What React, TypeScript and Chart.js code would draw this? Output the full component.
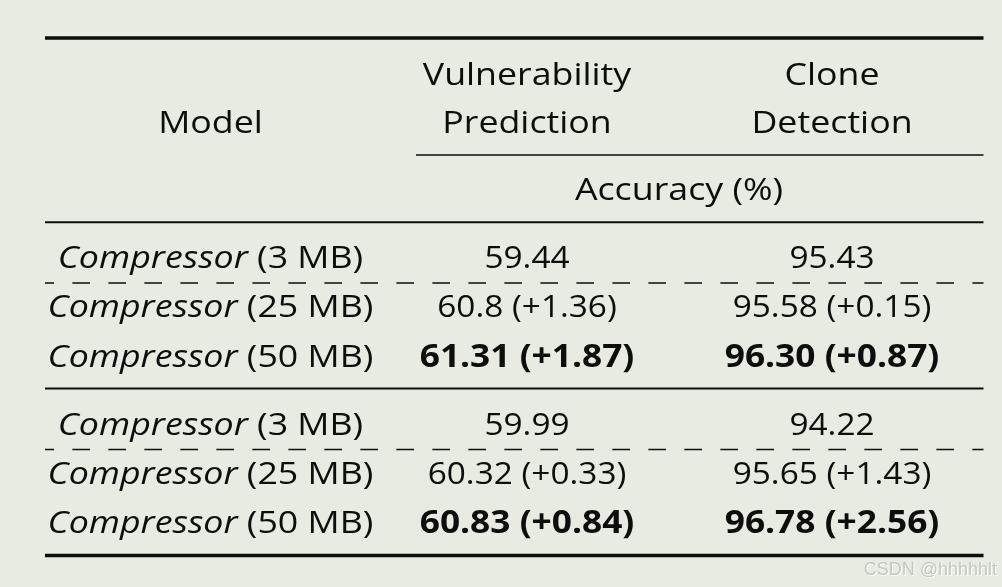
import React, { useEffect, useRef } from "react";
import { Chart, registerables } from "chart.js";

Chart.register(...registerables);

// ---------- table content ----------
const modelHeader = "Model";
const taskHeaderTop = ["Vulnerability", "Clone"];
const taskHeaderBottom = ["Prediction", "Detection"];
const metricHeader = "Accuracy (%)";

const modelNames = ["Compressor", "Compressor", "Compressor", "Compressor", "Compressor", "Compressor"];
const modelSizes = ["(3 MB)", "(25 MB)", "(50 MB)", "(3 MB)", "(25 MB)", "(50 MB)"];
const vulnAccuracy = ["59.44", "60.8", "61.31", "59.99", "60.32", "60.83"];
const vulnGain = ["", "+1.36", "+1.87", "", "+0.33", "+0.84"];
const cloneAccuracy = ["95.43", "95.58", "96.30", "94.22", "95.65", "96.78"];
const cloneGain = ["", "+0.15", "+0.87", "", "+1.43", "+2.56"];
const bestRows = [false, false, true, false, false, true];
const watermark = "CSDN @hhhhhlt";

// ---------- layout (page units = pixels of the 1002x587 picture) ----------
const W = 1002;
const H = 587;
const COL_X = [210.5, 527, 832];
const ROW_Y = [268, 317.3, 366.7, 435, 484, 532.7];
const HEAD_Y1 = 85;
const HEAD_Y2 = 133.3;
const METRIC_Y = 200;
const METRIC_X = 679;
const RULE_LEFT = 45;
const RULE_RIGHT = 983.5;
const PARTIAL_LEFT = 416;
const HEAVY_RULES = [38, 555.5];
const LIGHT_RULES = [222.3, 388.5];
const PARTIAL_RULE = 155;
const DASH_RULES = [283, 449.5];

const BG = "#e7ebe2";
const INK = "#0d0d0d";
const FAMILY = '"Open Sans", "Noto Sans", sans-serif';
const SIZE = 31.5;
const STRETCH_TEXT = 1.135;
const STRETCH_NUM = 1.06;
const STRETCH_BOLD = 1.12;

type Seg = { t: string; f: string };

function drawSegs(
  ctx: CanvasRenderingContext2D,
  segs: Seg[],
  cx: number,
  by: number,
  stretch: number
) {
  let total = 0;
  const widths = segs.map((s) => {
    ctx.font = s.f;
    const w = ctx.measureText(s.t).width;
    total += w;
    return w;
  });
  ctx.save();
  ctx.translate(cx, by);
  ctx.scale(stretch, 1);
  ctx.textAlign = "left";
  ctx.textBaseline = "alphabetic";
  let x = -total / 2;
  segs.forEach((s, i) => {
    ctx.font = s.f;
    ctx.fillText(s.t, x, 0);
    x += widths[i];
  });
  ctx.restore();
}

const reg = `400 ${SIZE}px ${FAMILY}`;
const ital = `italic 400 ${SIZE}px ${FAMILY}`;
const bold = `700 ${SIZE}px ${FAMILY}`;

const tablePlugin = {
  id: "tableText",
  afterDatasetsDraw(chart: any) {
    const { ctx } = chart;
    const xs = chart.scales.x;
    const ys = chart.scales.y;
    const px = (v: number) => xs.getPixelForValue(v);
    const py = (v: number) => ys.getPixelForValue(v);

    ctx.save();
    ctx.strokeStyle = INK;
    ctx.fillStyle = INK;
    const rule = (x0: number, x1: number, yv: number, w: number, dash?: boolean) => {
      ctx.save();
      ctx.lineWidth = w;
      if (dash) {
        ctx.setLineDash([17.6, 18.4]);
        ctx.lineDashOffset = 8.6;
      }
      ctx.beginPath();
      ctx.moveTo(px(x0), py(yv));
      ctx.lineTo(px(x1), py(yv));
      ctx.stroke();
      ctx.restore();
    };
    HEAVY_RULES.forEach((y) => rule(RULE_LEFT, RULE_RIGHT, y, 3.6));
    LIGHT_RULES.forEach((y) => rule(RULE_LEFT, RULE_RIGHT, y, 2));
    rule(PARTIAL_LEFT, RULE_RIGHT, PARTIAL_RULE, 1.6);
    DASH_RULES.forEach((y) => rule(RULE_LEFT, RULE_RIGHT, y, 1.3, true));

    // headers
    drawSegs(ctx, [{ t: modelHeader, f: reg }], px(COL_X[0]), py(HEAD_Y2), STRETCH_TEXT);
    taskHeaderTop.forEach((t, i) => drawSegs(ctx, [{ t, f: reg }], px(COL_X[i + 1]), py(HEAD_Y1), STRETCH_TEXT));
    taskHeaderBottom.forEach((t, i) => drawSegs(ctx, [{ t, f: reg }], px(COL_X[i + 1]), py(HEAD_Y2), STRETCH_TEXT));
    drawSegs(ctx, [{ t: metricHeader, f: reg }], px(METRIC_X), py(METRIC_Y), STRETCH_TEXT);

    // body cells, positioned by the dataset elements
    const metas = [0, 1, 2].map((i) => chart.getDatasetMeta(i));
    metas[0].data.forEach((el: any, r: number) => {
      drawSegs(ctx, [{ t: modelNames[r], f: ital }, { t: " " + modelSizes[r], f: reg }], el.x, el.y, STRETCH_TEXT);
    });
    metas[1].data.forEach((el: any, r: number) => {
      const f = bestRows[r] ? bold : reg;
      const t = vulnGain[r] ? `${vulnAccuracy[r]} (${vulnGain[r]})` : vulnAccuracy[r];
      drawSegs(ctx, [{ t, f }], el.x, el.y, bestRows[r] ? STRETCH_BOLD : STRETCH_NUM);
    });
    metas[2].data.forEach((el: any, r: number) => {
      const f = bestRows[r] ? bold : reg;
      const t = cloneGain[r] ? `${cloneAccuracy[r]} (${cloneGain[r]})` : cloneAccuracy[r];
      drawSegs(ctx, [{ t, f }], el.x, el.y, bestRows[r] ? STRETCH_BOLD : STRETCH_NUM);
    });

    // watermark
    ctx.save();
    ctx.font = `400 18px "Liberation Sans", Arial, sans-serif`;
    ctx.textAlign = "right";
    ctx.textBaseline = "alphabetic";
    ctx.fillStyle = "#ffffff";
    ctx.fillText(watermark, px(998), py(576));
    ctx.fillStyle = "#c4c6c2";
    ctx.fillText(watermark, px(997), py(575));
    ctx.restore();

    ctx.restore();
  },
};

export default function App() {
  const ref = useRef<HTMLCanvasElement | null>(null);
  useEffect(() => {
    document.body.style.margin = "0";
    document.body.style.background = BG;
    if (!ref.current) return;
    const cellData = (col: number) => ROW_Y.map((y) => ({ x: COL_X[col], y }));
    const chart = new Chart(ref.current, {
      type: "scatter",
      data: {
        datasets: [0, 1, 2].map((c) => ({
          label: ["model", "vuln", "clone"][c],
          data: cellData(c),
          pointRadius: 0,
          pointHoverRadius: 0,
        })),
      },
      options: {
        animation: false,
        responsive: false,
        maintainAspectRatio: false,
        events: [],
        layout: { padding: 0 },
        plugins: { legend: { display: false }, tooltip: { enabled: false } },
        scales: {
          x: { type: "linear", min: 0, max: W, display: false },
          y: { type: "linear", min: 0, max: H, reverse: true, display: false },
        },
      },
      plugins: [tablePlugin],
    });
    return () => chart.destroy();
  }, []);
  return (
    <div style={{ position: "absolute", left: 0, top: 0, width: W, height: H, background: BG }}>
      <canvas ref={ref} width={W} height={H} style={{ display: "block" }} />
    </div>
  );
}
